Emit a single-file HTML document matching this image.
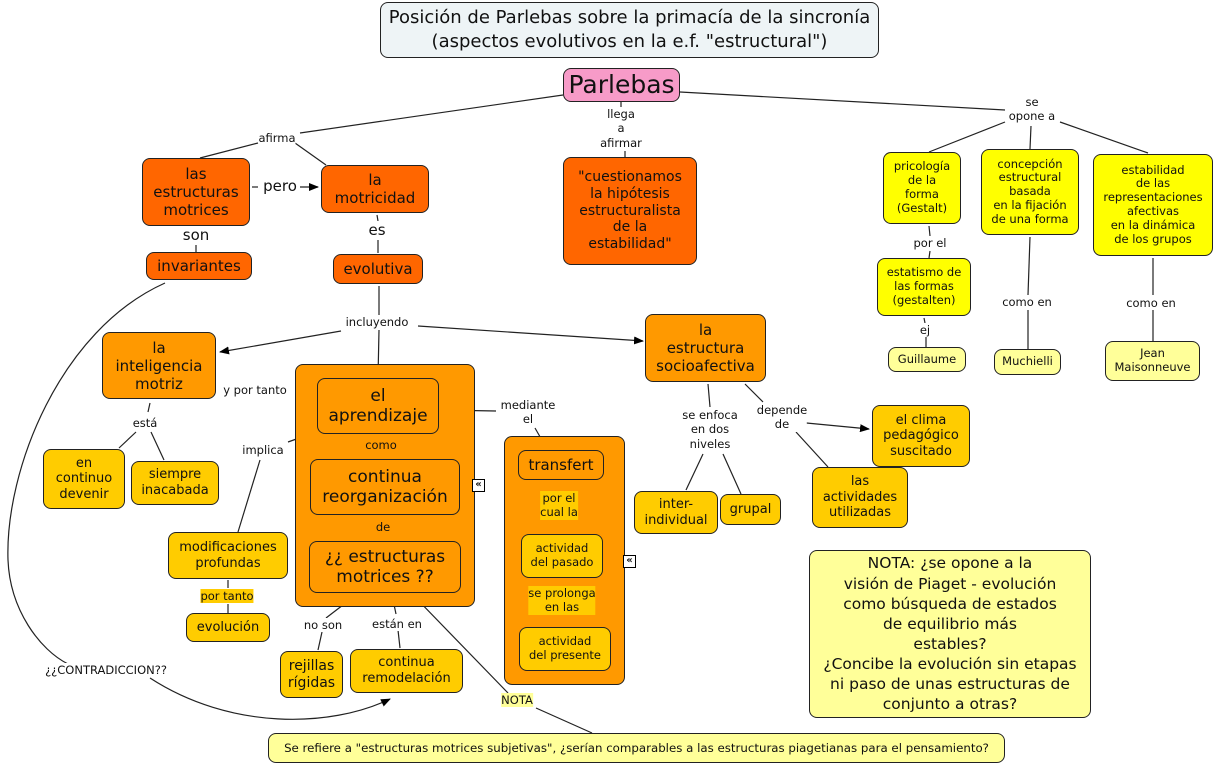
<!DOCTYPE html>
<html><head><meta charset="utf-8"><style>
body{margin:0;width:1214px;height:764px;background:#fff;position:relative;overflow:hidden;font-family:"DejaVu Sans","Liberation Sans",sans-serif;color:#111}
.n{position:absolute;box-sizing:border-box;border:1px solid #222;border-radius:8px;display:flex;align-items:center;justify-content:center;text-align:center;line-height:1.2}
.d{background:#ff6600;font-size:15px}
.o{background:#ff9900;font-size:15px}
.y{background:#ffcc00;font-size:13px}
.Y{background:#ffff00;font-size:11.5px}
.p{background:#ffff99;font-size:11.5px}
.l{position:absolute;font-size:11.5px;text-align:center;line-height:1.25;background:#fff;white-space:nowrap;transform:translateX(-50%)}
.lo{background:transparent}
.ly{background:#ffcc00}
svg{position:absolute;left:0;top:0}
.ic{position:absolute;width:11px;height:11px;border:1px solid #000;background:#fff;font-size:10px;line-height:10px;text-align:center;font-weight:bold}
</style></head><body>
<svg width="1214" height="764">
<defs><marker id="a" markerWidth="10" markerHeight="8" refX="9" refY="4" orient="auto" markerUnits="userSpaceOnUse"><path d="M0,0L10,4L0,8z" fill="#000"/></marker></defs>
<g stroke="#222" stroke-width="1.2" fill="none">
<line x1="563" y1="95" x2="300" y2="133"/>
<line x1="258" y1="143" x2="200" y2="158"/>
<line x1="295" y1="143" x2="326" y2="165"/>
<line x1="621" y1="101" x2="621" y2="108"/>
<line x1="625" y1="151" x2="625" y2="157"/>
<line x1="680" y1="92" x2="1005" y2="110"/>
<line x1="1005" y1="122" x2="929" y2="152"/>
<line x1="1031" y1="126" x2="1030" y2="149"/>
<line x1="1060" y1="122" x2="1148" y2="153"/>
<line x1="929" y1="226" x2="930" y2="236"/>
<line x1="930" y1="251" x2="929" y2="258"/>
<line x1="924" y1="318" x2="925" y2="323"/>
<line x1="926" y1="336" x2="926" y2="347"/>
<line x1="1030" y1="237" x2="1028" y2="295"/>
<line x1="1028" y1="310" x2="1028" y2="349"/>
<line x1="1153" y1="258" x2="1153" y2="295"/>
<line x1="1153" y1="310" x2="1153" y2="341"/>
<line x1="252" y1="187" x2="258" y2="187"/>
<line x1="300" y1="187" x2="318" y2="187" marker-end="url(#a)"/>
<line x1="196" y1="245" x2="196" y2="252"/>
<line x1="377" y1="215" x2="378" y2="221"/>
<line x1="378" y1="240" x2="378" y2="253"/>
<line x1="379" y1="286" x2="379" y2="316"/>
<line x1="341" y1="331" x2="220" y2="352" marker-end="url(#a)"/>
<line x1="418" y1="326" x2="643" y2="341" marker-end="url(#a)"/>
<line x1="379" y1="330" x2="378" y2="378"/>
<line x1="297" y1="396" x2="313" y2="397" marker-end="url(#a)"/>
<line x1="150" y1="403" x2="148" y2="412"/>
<line x1="136" y1="432" x2="119" y2="448"/>
<line x1="151" y1="432" x2="164" y2="460"/>
<line x1="316" y1="432" x2="288" y2="442"/>
<line x1="260" y1="460" x2="238" y2="532"/>
<line x1="228" y1="580" x2="228" y2="588"/>
<line x1="228" y1="604" x2="228" y2="613"/>
<line x1="441" y1="410" x2="496" y2="411"/>
<line x1="535" y1="428" x2="547" y2="449"/>
<line x1="381" y1="434" x2="381" y2="438"/>
<line x1="382" y1="453" x2="382" y2="458"/>
<line x1="383" y1="516" x2="383" y2="519"/>
<line x1="383" y1="536" x2="384" y2="540"/>
<line x1="560" y1="482" x2="560" y2="491"/>
<line x1="561" y1="522" x2="562" y2="533"/>
<line x1="562" y1="580" x2="562" y2="587"/>
<line x1="563" y1="614" x2="564" y2="626"/>
<line x1="356" y1="595" x2="326" y2="618"/>
<line x1="322" y1="632" x2="318" y2="650"/>
<line x1="392" y1="595" x2="396" y2="614"/>
<line x1="398" y1="630" x2="400" y2="648"/>
<line x1="413" y1="595" x2="508" y2="693"/>
<line x1="536" y1="708" x2="592" y2="733"/>
<line x1="708" y1="384" x2="710" y2="407"/>
<line x1="703" y1="454" x2="686" y2="490"/>
<line x1="723" y1="454" x2="741" y2="494"/>
<line x1="745" y1="384" x2="763" y2="402"/>
<line x1="796" y1="422" x2="869" y2="429" marker-end="url(#a)"/>
<line x1="796" y1="432" x2="828" y2="467"/>
<path d="M165,283 C60,330 5,470 8,560 C10,610 40,650 68,664"/>
<path d="M150,678 C230,730 330,728 390,699" marker-end="url(#a)"/>
</g></svg>

<div class="n" style="left:380px;top:2px;width:499px;height:56px;background:#eef4f6;font-size:18px;line-height:1.35">Posición de Parlebas sobre la primacía de la sincronía<br>(aspectos evolutivos en la e.f. "estructural")</div>
<div class="n" style="left:563px;top:68px;width:117px;height:34px;background:#f79bc8;font-size:25px">Parlebas</div>

<div class="n d" style="left:142px;top:158px;width:108px;height:68px">las<br>estructuras<br>motrices</div>
<div class="n d" style="left:321px;top:165px;width:108px;height:48px">la<br>motricidad</div>
<div class="n d" style="left:146px;top:252px;width:106px;height:28px">invariantes</div>
<div class="n d" style="left:333px;top:254px;width:90px;height:30px">evolutiva</div>
<div class="n d" style="left:563px;top:157px;width:134px;height:108px;font-size:14px">"cuestionamos<br>la hipótesis<br>estructuralista<br>de la<br>estabilidad"</div>

<div class="n o" style="left:102px;top:332px;width:114px;height:67px">la<br>inteligencia<br>motriz</div>
<div class="n o" style="left:295px;top:364px;width:180px;height:243px"></div>
<div class="n o" style="left:317px;top:378px;width:122px;height:56px;font-size:17px">el<br>aprendizaje</div>
<div class="n o" style="left:310px;top:459px;width:150px;height:56px;font-size:17px">continua<br>reorganización</div>
<div class="n o" style="left:309px;top:541px;width:152px;height:52px;font-size:17px">¿¿ estructuras<br>motrices ??</div>
<div class="ic" style="left:472px;top:479px">«</div>

<div class="n o" style="left:504px;top:436px;width:121px;height:249px"></div>
<div class="n o" style="left:518px;top:450px;width:86px;height:30px;font-size:15px">transfert</div>
<div class="n y" style="left:521px;top:534px;width:82px;height:44px;font-size:11.5px">actividad<br>del pasado</div>
<div class="n y" style="left:519px;top:627px;width:92px;height:44px;font-size:11.5px">actividad<br>del presente</div>
<div class="ic" style="left:623px;top:555px">«</div>

<div class="n o" style="left:645px;top:314px;width:121px;height:68px">la<br>estructura<br>socioafectiva</div>
<div class="n y" style="left:43px;top:449px;width:82px;height:60px">en<br>continuo<br>devenir</div>
<div class="n y" style="left:131px;top:461px;width:88px;height:44px">siempre<br>inacabada</div>
<div class="n y" style="left:168px;top:532px;width:120px;height:47px">modificaciones<br>profundas</div>
<div class="n y" style="left:186px;top:613px;width:84px;height:29px">evolución</div>
<div class="n y" style="left:280px;top:651px;width:63px;height:47px;font-size:14px">rejillas<br>rígidas</div>
<div class="n y" style="left:350px;top:649px;width:113px;height:44px">continua<br>remodelación</div>
<div class="n y" style="left:634px;top:491px;width:84px;height:43px">inter-<br>individual</div>
<div class="n y" style="left:720px;top:494px;width:61px;height:31px">grupal</div>
<div class="n y" style="left:872px;top:405px;width:98px;height:62px">el clima<br>pedagógico<br>suscitado</div>
<div class="n y" style="left:812px;top:467px;width:96px;height:61px">las<br>actividades<br>utilizadas</div>

<div class="n p" style="left:809px;top:550px;width:282px;height:168px;font-size:15.5px;line-height:1.3">NOTA: ¿se opone a la<br>visión de Piaget - evolución<br>como búsqueda de estados<br>de equilibrio más<br>estables?<br>¿Concibe la evolución sin etapas<br>ni paso de unas estructuras de<br>conjunto a otras?</div>
<div class="n p" style="left:268px;top:733px;width:737px;height:30px;font-size:11.8px;white-space:nowrap">Se refiere a "estructuras motrices subjetivas", ¿serían comparables a las estructuras piagetianas para el pensamiento?</div>

<div class="n Y" style="left:883px;top:152px;width:78px;height:72px">pricología<br>de la<br>forma<br>(Gestalt)</div>
<div class="n Y" style="left:981px;top:149px;width:98px;height:86px">concepción<br>estructural<br>basada<br>en la fijación<br>de una forma</div>
<div class="n Y" style="left:1093px;top:154px;width:120px;height:102px">estabilidad<br>de las<br>representaciones<br>afectivas<br>en la dinámica<br>de los grupos</div>
<div class="n Y" style="left:877px;top:258px;width:94px;height:58px">estatismo de<br>las formas<br>(gestalten)</div>
<div class="n p" style="left:888px;top:347px;width:78px;height:25px">Guillaume</div>
<div class="n p" style="left:994px;top:349px;width:67px;height:26px">Muchielli</div>
<div class="n p" style="left:1105px;top:341px;width:95px;height:40px">Jean<br>Maisonneuve</div>

<div class="l" style="left:277px;top:131px">afirma</div>
<div class="l" style="left:621px;top:107px">llega<br>a<br>afirmar</div>
<div class="l" style="left:1032px;top:95px">se<br>opone a</div>
<div class="l" style="left:280px;top:177px;font-size:15px">pero</div>
<div class="l" style="left:196px;top:226px;font-size:15px">son</div>
<div class="l" style="left:377px;top:221px;font-size:15px">es</div>
<div class="l" style="left:377px;top:315px">incluyendo</div>
<div class="l" style="left:255px;top:383px">y por tanto</div>
<div class="l" style="left:145px;top:416px">está</div>
<div class="l" style="left:263px;top:443px">implica</div>
<div class="l lo" style="left:381px;top:438px">como</div>
<div class="l lo" style="left:383px;top:520px">de</div>
<div class="l" style="left:528px;top:398px">mediante<br>el</div>
<div class="l ly" style="left:559px;top:491px">por el<br>cual la</div>
<div class="l ly" style="left:562px;top:586px">se prolonga<br>en las</div>
<div class="l ly" style="left:227px;top:589px">por tanto</div>
<div class="l" style="left:323px;top:618px">no son</div>
<div class="l" style="left:397px;top:617px">están en</div>
<div class="l ly" style="left:517px;top:693px;background:#ffff99">NOTA</div>
<div class="l" style="left:106px;top:663px">¿¿CONTRADICCION??</div>
<div class="l" style="left:710px;top:408px">se enfoca<br>en dos<br>niveles</div>
<div class="l" style="left:782px;top:403px">depende<br>de</div>
<div class="l" style="left:930px;top:236px">por el</div>
<div class="l" style="left:925px;top:323px">ej</div>
<div class="l" style="left:1027px;top:295px">como en</div>
<div class="l" style="left:1151px;top:296px">como en</div>
</body></html>
